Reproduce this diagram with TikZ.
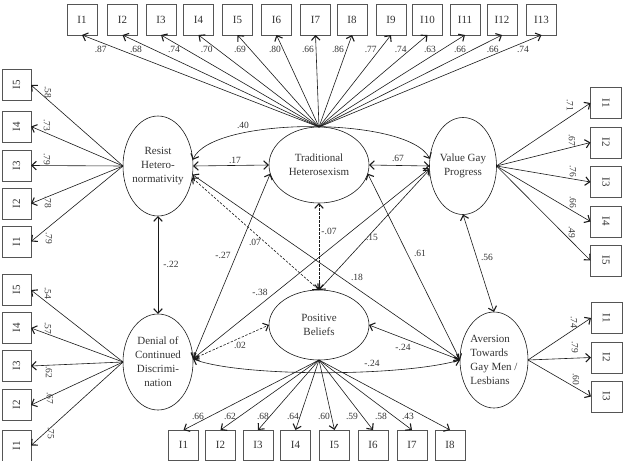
\documentclass[tikz,border=0pt]{standalone}
\usepackage{fontspec}
\usepackage{graphicx}
\setmainfont{Liberation Serif}
\usetikzlibrary{shapes.geometric,arrows.meta}
\definecolor{linec}{HTML}{1A1A1A}
\definecolor{txtc}{HTML}{333333}
\definecolor{boxc}{HTML}{555555}
\begin{document}
\begin{tikzpicture}[x=1pt,y=-1pt,
  lat/.style={draw=linec, ellipse, inner sep=0pt, outer sep=0pt, line width=0.6pt},
  lattext/.style={align=center, font=\fontsize{11}{14}\selectfont, text=txtc, inner sep=0pt},
  ind/.style={draw=boxc, rectangle, inner sep=0pt, outer sep=0pt, minimum width=30pt, minimum height=31pt, font=\fontsize{11}{13}\selectfont, text=txtc, line width=0.7pt},
  sidebox/.style={ind, minimum width=29pt, minimum height=31pt},
  coef/.style={font=\fontsize{9.5}{11}\selectfont, text=txtc, inner sep=0.5pt},
  ld/.style={-{Straight Barb[length=4.5pt,width=8.5pt,line width=1.1pt]}, draw=linec, line width=0.6pt},
  cor/.style={{Straight Barb[length=4.5pt,width=8.5pt,line width=1.1pt]}-{Straight Barb[length=4.5pt,width=8.5pt,line width=1.1pt]}, draw=linec, line width=0.6pt},
  dcor/.style={cor, dashed, dash pattern=on 2.5pt off 1.5pt}
]
\useasboundingbox (0,0) rectangle (625,461);

% latent variables
\node[lat, minimum width=70pt, minimum height=100pt] (R) at (158,166) {};
\node[lattext] at (R) {Resist\\Hetero-\\normativity};
\node[lat, minimum width=100pt, minimum height=76pt] (T) at (319,165) {};
\node[lattext] at (T) {Traditional\\Heterosexism};
\node[lat, minimum width=67pt, minimum height=97pt] (V) at (463,166) {};
\node[lattext] at (V) {Value Gay\\Progress};
\node[lat, minimum width=70pt, minimum height=96pt] (D) at (158,362) {};
\node[lattext] at (D) {Denial of\\Continued\\Discrimi-\\nation};
\node[lat, minimum width=100pt, minimum height=70pt] (P) at (319,325) {};
\node[lattext] at (P) {Positive\\Beliefs};
\node[lat, minimum width=68pt, minimum height=96pt] (A) at (494,360) {};
\node[lattext, align=left] at (A) {Aversion\\Towards\\Gay Men /\\Lesbians};

% top indicators (Traditional Heterosexism)
\foreach \i/\x in {1/82,2/122.5,3/161,4/198.5,5/237.5,6/276.5,7/315.5,8/352,9/391,10/427.5,11/465,12/502,13/541.5}
  \node[ind] (t\i) at (\x,19.5) {I\i};
\foreach \i in {1,...,13}
  \draw[ld] (T.north) -- (t\i.south);
\foreach \x/\v in {100.7/.87,136/.68,174/.74,206.7/.70,240/.69,275/.80,308/.66,338/.86,370.7/.77,400.7/.74,430/.63,460/.66,492.7/.66,523/.74}
  \node[coef] at (\x,49) {\v};

% left indicators (Resist)
\foreach \i/\y in {5/85,4/126.5,3/165.5,2/203.5,1/241.5}
  \node[sidebox] (r\i) at (16.5,\y) {\rotatebox{90}{I\i}};
\foreach \i in {1,...,5}
  \draw[ld] (R.west) -- (r\i.east);
\foreach \x/\y/\v in {48/92/.58,47/125/.73,47/159/.79,48/202/.78,49/238/.79}
  \node[coef, rotate=-90] at (\x,\y) {\v};

% left indicators (Denial)
\foreach \i/\y in {5/290,4/328,3/366,2/405,1/445.5}
  \node[sidebox] (d\i) at (16.5,\y) {\rotatebox{90}{I\i}};
\foreach \i in {1,...,5}
  \draw[ld] (D.west) -- (d\i.east);
\foreach \x/\y/\v in {48/293/.54,48/328/.57,49/372/.62,50/398/.67,51/433/.75}
  \node[coef, rotate=-90] at (\x,\y) {\v};

% right indicators (Value Gay Progress)
\foreach \i/\y in {1/103,2/142.5,3/182,4/221.5,5/260.5}
  \node[sidebox, minimum width=31pt] (v\i) at (606,\y) {\rotatebox{-90}{I\i}};
\foreach \i in {1,...,5}
  \draw[ld] (V.east) -- (v\i.west);
\foreach \x/\y/\v in {570/105/.71,572/140/.67,573/171/.76,573/202/.66,572/232/.49}
  \node[coef, rotate=-90] at (\x,\y) {\v};

% right indicators (Aversion)
\foreach \i/\y in {1/318,2/357.5,3/396.5}
  \node[sidebox, minimum width=31pt] (a\i) at (606.5,\y) {\rotatebox{-90}{I\i}};
\foreach \i in {1,...,3}
  \draw[ld] (A.east) -- (a\i.west);
\foreach \x/\y/\v in {574/322/.74,575/347/.79,576/379/.60}
  \node[coef, rotate=-90] at (\x,\y) {\v};

% bottom indicators (Positive Beliefs)
\foreach \i/\x in {1/183.5,2/220.5,3/258,4/295.5,5/334.5,6/373,7/412,8/450}
  \node[ind, minimum height=30pt] (p\i) at (\x,445) {I\i};
\foreach \i in {1,...,8}
  \draw[ld] (P.south) -- (p\i.north);
\foreach \x/\v in {198/.66,230/.62,263/.68,293/.64,324/.60,352/.59,381/.58,408/.43}
  \node[coef] at (\x,416) {\v};

% structural relations
\draw[cor] (R.10) .. controls (212,116) and (408,116) .. (V.168);
\draw[cor] (R.east) -- (T.west);
\draw[cor] (T.east) -- (V.west);
\draw[cor] (R.south) -- (D.north);
\draw[cor] (R.-14) -- (A.west);
\draw[dcor] (R.-19) -- (P.north);
\draw[dcor] (T.south) -- (P.north);
\draw[cor] (V.186) -- (P.north);
\draw[cor] (T.190) -- (D.5);
\draw[cor] (V.184) -- (D.5);
\draw[cor] (T.350) -- (A.west);
\draw[cor] (V.south) -- (A.north);
\draw[dcor] (D.5) -- (P.west);
\draw[cor] (P.east) -- (A.west);
\draw[cor] (D.5) .. controls (240,377) and (400,377) .. (A.west);

\node[coef] at (243,125) {.40};
\node[coef] at (235,160) {.17};
\node[coef] at (398,158) {.67};
\node[coef] at (171,264) {-.22};
\node[coef] at (223,255) {-.27};
\node[coef] at (255,242) {.07};
\node[coef] at (329,231) {-.07};
\node[coef] at (372,237) {.15};
\node[coef] at (420,253) {.61};
\node[coef] at (357,277) {.18};
\node[coef] at (260,292) {-.38};
\node[coef] at (487,257) {.56};
\node[coef] at (240,345) {.02};
\node[coef] at (403,347) {-.24};
\node[coef] at (372,363) {-.24};
\end{tikzpicture}
\end{document}
